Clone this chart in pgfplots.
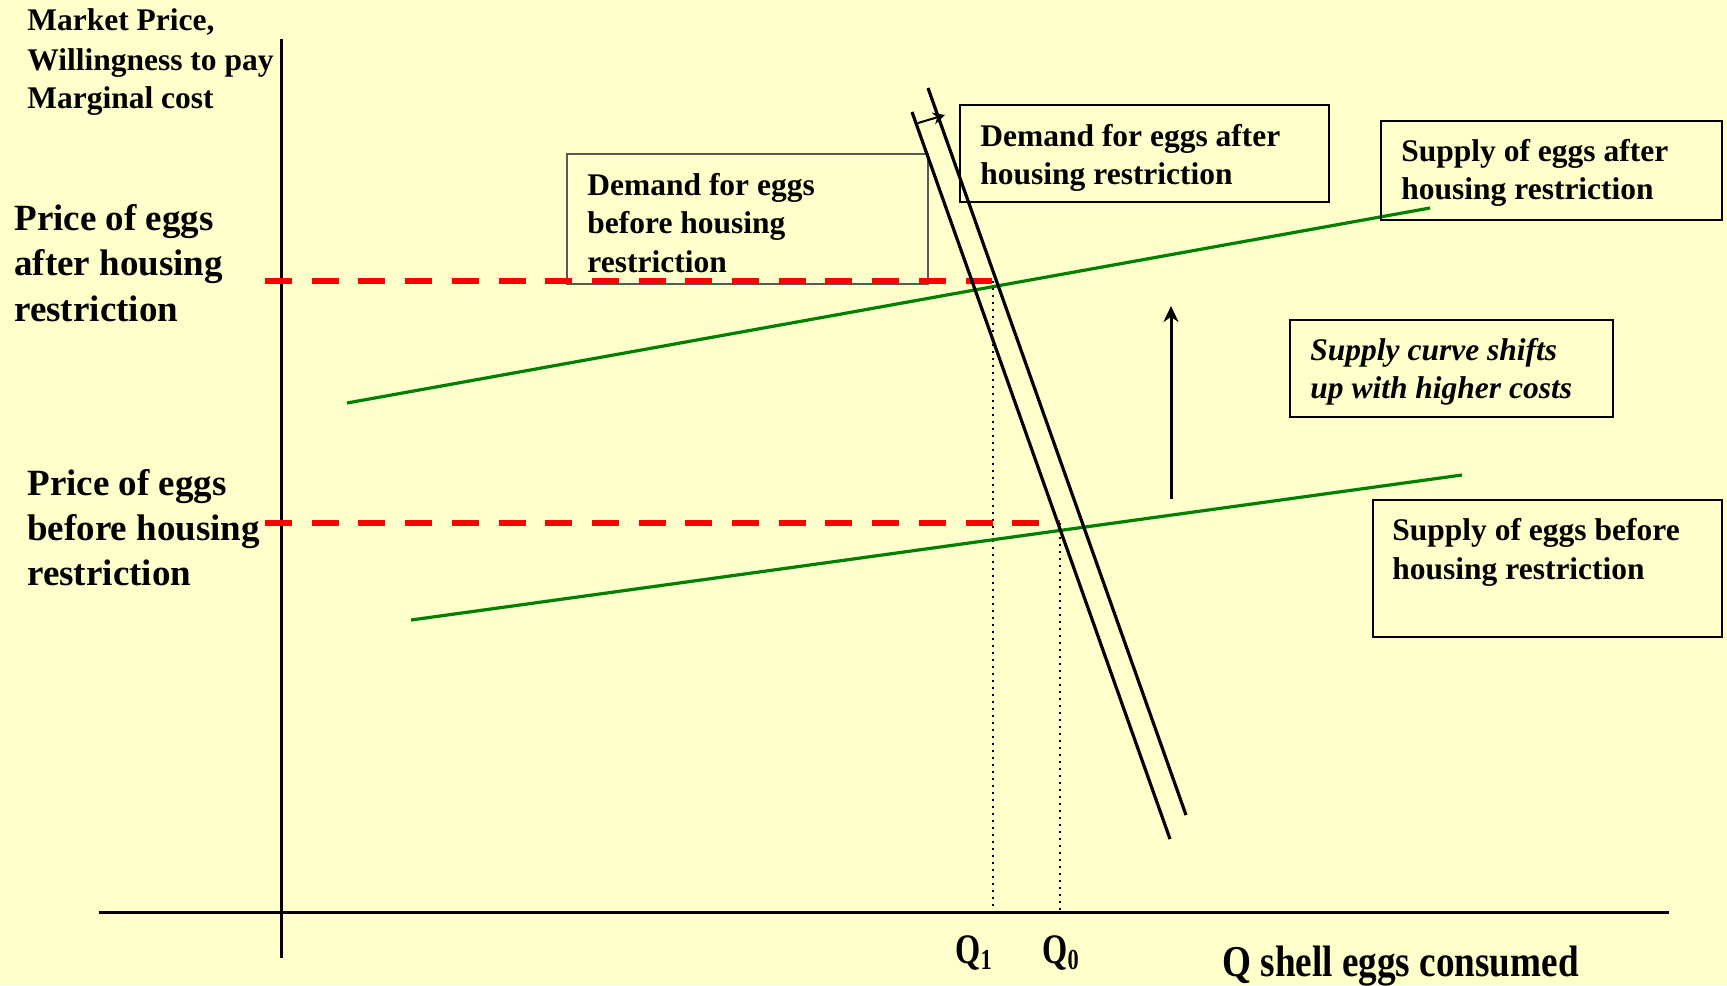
\documentclass[border=0pt]{standalone}
\usepackage{fontspec}
\setmainfont{Liberation Serif}
\usepackage{graphicx}
\usepackage{pgfplots}
\pgfplotsset{compat=1.18}
\usetikzlibrary{arrows.meta}
\definecolor{bg}{HTML}{FFFFCC}
\definecolor{sgreen}{HTML}{008000}
\definecolor{dred}{HTML}{FF0000}
\newcommand{\smf}{\fontsize{15.75}{18}\selectfont\bfseries}
\newcommand{\lgf}{\fontsize{18.5}{22}\selectfont\bfseries}
\newcommand{\qf}{\fontsize{21}{24}\selectfont\bfseries}
\newcommand{\xf}{\fontsize{22}{26}\selectfont\bfseries}
\begin{document}
\begin{tikzpicture}
\fill[bg] (0,0) rectangle (863.5pt,492.5pt);
\begin{axis}[width=863.5pt,height=492.5pt,scale only axis,
  xmin=0,xmax=1727,ymin=0,ymax=985,y dir=reverse,hide axis,clip=false]
% axes
\addplot[black,line width=1.5pt,mark=none] coordinates {(281,39) (281,958)};
\addplot[black,line width=1.5pt,mark=none] coordinates {(99,912) (1669,912)};
% dotted guides
\addplot[black,line width=1.2pt,mark=none,dash pattern=on 1.1pt off 2.4pt] coordinates {(993,281) (993,912)};
\addplot[black,line width=1.2pt,mark=none,dash pattern=on 1.1pt off 2.4pt] coordinates {(1060,523) (1060,912)};
% box: demand before (thin grey)
\draw[black!65,line width=0.8pt] (axis cs:567,154) rectangle (axis cs:928,284);
% red dashed price lines
\addplot[dred,line width=3pt,mark=none,dash pattern=on 13.5pt off 9.85pt] coordinates {(265,281) (992,281)};
\addplot[dred,line width=3pt,mark=none,dash pattern=on 13.5pt off 9.85pt] coordinates {(265,523) (1060,523)};
% supply curves
\addplot[sgreen,line width=1.6pt,mark=none] coordinates {(347,403) (1430,208)};
\addplot[sgreen,line width=1.6pt,mark=none] coordinates {(411,620) (1462,475)};
% demand curves
\addplot[black,line width=1.6pt,mark=none] coordinates {(912,112) (1170,839)};
\addplot[black,line width=1.6pt,mark=none] coordinates {(928,88) (1186,815)};
% small shift arrow
\addplot[black,line width=1pt,mark=none,-{Stealth[length=6pt,width=6pt]}] coordinates {(918,123) (945,115)};
% upward arrow
\addplot[black,line width=1.5pt,mark=none,-{Stealth[length=8pt,width=7.5pt]}] coordinates {(1171,499) (1171,306)};
% boxes
\draw[black,line width=1pt] (axis cs:960,105) rectangle (axis cs:1329,202);
\draw[black,line width=1pt] (axis cs:1381,121) rectangle (axis cs:1722,220);
\draw[black,line width=1pt] (axis cs:1290,320) rectangle (axis cs:1613,417);
\draw[black,line width=1pt] (axis cs:1373,500) rectangle (axis cs:1722,637);
% texts
\begin{scope}[every node/.style={anchor=base west,inner sep=0pt}]
\node[font=\smf] at (axis cs:27,30.5) {Market Price,};
\node[font=\smf] at (axis cs:27,70) {Willingness to pay};
\node[font=\smf] at (axis cs:27,108.5) {Marginal cost};
\node[font=\lgf] at (axis cs:14,230.5) {Price of eggs};
\node[font=\lgf] at (axis cs:14,275.5) {after housing};
\node[font=\lgf] at (axis cs:14,321) {restriction};
\node[font=\lgf] at (axis cs:27,495) {Price of eggs};
\node[font=\lgf] at (axis cs:27,540) {before housing};
\node[font=\lgf] at (axis cs:27,585) {restriction};
\node[font=\smf] at (axis cs:587,195) {Demand for eggs};
\node[font=\smf] at (axis cs:587,233) {before housing};
\node[font=\smf] at (axis cs:587,272) {restriction};
\node[font=\smf] at (axis cs:980,146.5) {Demand for eggs after};
\node[font=\smf] at (axis cs:980,184) {housing restriction};
\node[font=\smf] at (axis cs:1401,161) {Supply of eggs after};
\node[font=\smf] at (axis cs:1401,199.5) {housing restriction};
\node[font=\smf\itshape] at (axis cs:1310,360.5) {Supply curve shifts};
\node[font=\smf\itshape] at (axis cs:1310,398.5) {up with higher costs};
\node[font=\smf] at (axis cs:1392,540) {Supply of eggs before};
\node[font=\smf] at (axis cs:1392,579) {housing restriction};
\node[font=\qf] at (axis cs:955,963) {\scalebox{0.77}[1]{Q\raisebox{-3pt}{\fontsize{14.5}{14}\selectfont 1}}};
\node[font=\qf] at (axis cs:1042,963) {\scalebox{0.77}[1]{Q\raisebox{-3pt}{\fontsize{14.5}{14}\selectfont 0}}};
\node[font=\xf] at (axis cs:1222,976) {\scalebox{0.845}[1]{Q shell eggs consumed}};
\end{scope}
\end{axis}
\pgfresetboundingbox
\path[use as bounding box] (0,0) rectangle (863.5pt,492.5pt);
\end{tikzpicture}
\end{document}
